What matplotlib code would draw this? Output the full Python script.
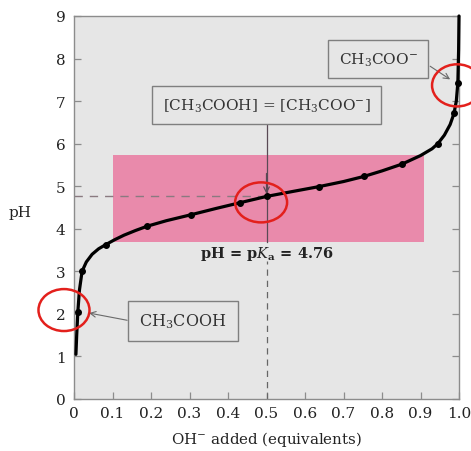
import matplotlib
matplotlib.use("Agg")
import matplotlib.pyplot as plt
from matplotlib.patches import Rectangle, Ellipse

plt.rcParams['font.family'] = ['DejaVu Serif']
plt.rcParams['mathtext.fontset'] = 'dejavuserif'

# Titration curve of acetic acid with hydroxide
curve_x = [0.005, 0.007, 0.010, 0.014, 0.021, 0.032, 0.047, 0.064, 0.083, 0.105,
           0.130, 0.160, 0.190, 0.240, 0.304, 0.370, 0.430, 0.500, 0.570, 0.636,
           0.700, 0.753, 0.800, 0.852, 0.900, 0.930, 0.945, 0.962, 0.977, 0.987,
           0.993, 0.997, 0.999, 1.000]
curve_ph = [1.05, 1.50, 2.05, 2.55, 3.00, 3.22, 3.40, 3.53, 3.63, 3.74,
            3.85, 3.96, 4.06, 4.19, 4.33, 4.48, 4.61, 4.76, 4.88, 4.99,
            5.11, 5.23, 5.36, 5.52, 5.72, 5.88, 6.00, 6.20, 6.45, 6.71,
            7.00, 7.43, 8.20, 9.00]

# Measured points along the curve
point_x = [0.010, 0.021, 0.083, 0.190, 0.304, 0.430, 0.500, 0.636, 0.753, 0.852,
           0.945, 0.987, 0.997]
point_ph = [2.05, 3.00, 3.63, 4.06, 4.33, 4.61, 4.76, 4.99, 5.23, 5.52,
            6.00, 6.71, 7.43]

pka = 4.76
half_equiv = 0.5
buffer_x = [0.10, 0.91]
buffer_ph = [3.70, 5.73]

x_ticks = [0, 0.1, 0.2, 0.3, 0.4, 0.5, 0.6, 0.7, 0.8, 0.9, 1.0]
x_tick_labels = ['0', '0.1', '0.2', '0.3', '0.4', '0.5', '0.6', '0.7', '0.8', '0.9', '1.0']
y_ticks = [0, 1, 2, 3, 4, 5, 6, 7, 8, 9]

fig = plt.figure(figsize=(4.71, 4.52), dpi=100)
ax = fig.add_axes([74 / 471, 52 / 452, 385 / 471, 383 / 452])
ax.set_facecolor('#e6e6e6')
ax.set_xlim(0, 1)
ax.set_ylim(0, 9)

for s in ax.spines.values():
    s.set_color('#8c8c8c')
    s.set_linewidth(1.0)

ax.set_xticks(x_ticks)
ax.set_xticklabels(x_tick_labels)
ax.set_yticks(y_ticks)
ax.tick_params(direction='in', length=5, width=0.9, color='#8c8c8c',
               labelsize=11, labelcolor='#222222', right=True, top=False)
ax.tick_params(axis='y', pad=6)
ax.tick_params(axis='x', pad=5)

ax.set_xlabel('OH$^{-}$ added (equivalents)', fontsize=10.8, color='#222222')
ax.xaxis.set_label_coords(0.5, -0.104)
ax.xaxis.label.set_va('center')
ax.set_ylabel('pH', fontsize=11, color='#222222', rotation=0)
ax.yaxis.set_label_coords(-0.14, 0.488)
ax.yaxis.label.set_va('center')
ax.yaxis.label.set_ha('center')

# Buffering region
ax.add_patch(Rectangle((buffer_x[0], buffer_ph[0]), buffer_x[1] - buffer_x[0],
                       buffer_ph[1] - buffer_ph[0], facecolor='#e98aab',
                       edgecolor='none', zorder=1))

# pKa guide lines
ax.plot([0, half_equiv], [pka, pka], color='#8a7a80', lw=1.0,
        dashes=(6, 5), zorder=2)
ax.plot([half_equiv, half_equiv], [0, 3.25], color='#666666', lw=0.9,
        dashes=(5, 4), zorder=2)
ax.plot([half_equiv, half_equiv], [buffer_ph[0], 6.46], color='#5a4a55',
        lw=0.9, zorder=2)
ax.annotate('', xy=(half_equiv, 4.82), xytext=(half_equiv, 5.3),
            arrowprops=dict(arrowstyle='->', color='#5a4a55', lw=0.9,
                            shrinkA=0, shrinkB=0), zorder=3)

# Titration curve and points
ax.plot(curve_x, curve_ph, color='black', lw=2.3, zorder=4,
        solid_capstyle='round', clip_on=False)
ax.plot(point_x, point_ph, 'o', color='black', ms=4.0, zorder=5, clip_on=False)

box_style = dict(boxstyle='square,pad=0.68', facecolor='#e6e6e6',
                 edgecolor='#7f7f7f', linewidth=1.0)

ax.text(half_equiv, 6.9, '[CH$_3$COOH] = [CH$_3$COO$^{-}$]', fontsize=11,
        ha='center', va='center', color='#333333', bbox=box_style, zorder=6)
ax.text(0.79, 7.98, 'CH$_3$COO$^{-}$', fontsize=11, ha='center', va='center',
        color='#333333', bbox=box_style, zorder=6)
ax.text(0.283, 1.83, 'CH$_3$COOH', fontsize=11.5, ha='center', va='center',
        color='#333333', bbox=box_style, zorder=6)

ax.text(half_equiv, 3.42, 'pH = p$K_\\mathbf{a}$ = 4.76', fontsize=10.5,
        fontweight='bold', ha='center', va='center', color='#222222', zorder=6)

arrow_kw = dict(arrowstyle='->', color='#6a6a6a', lw=0.8, shrinkA=0, shrinkB=0)
ax.annotate('', xy=(0.977, 7.51), xytext=(0.925, 7.82), arrowprops=arrow_kw,
            zorder=6)
ax.annotate('', xy=(0.039, 2.02), xytext=(0.138, 1.85), arrowprops=arrow_kw,
            zorder=6)

# Highlight rings
ring_kw = dict(facecolor='none', edgecolor='#e3201c', linewidth=1.8,
               zorder=7, clip_on=False)
ax.add_patch(Ellipse((-0.026, 2.09), 0.1325, 0.986, **ring_kw))
ax.add_patch(Ellipse((0.486, 4.62), 0.135, 0.94, **ring_kw))
ax.add_patch(Ellipse((0.995, 7.37), 0.13, 0.99, **ring_kw))

fig.savefig('out.png', dpi=100)
